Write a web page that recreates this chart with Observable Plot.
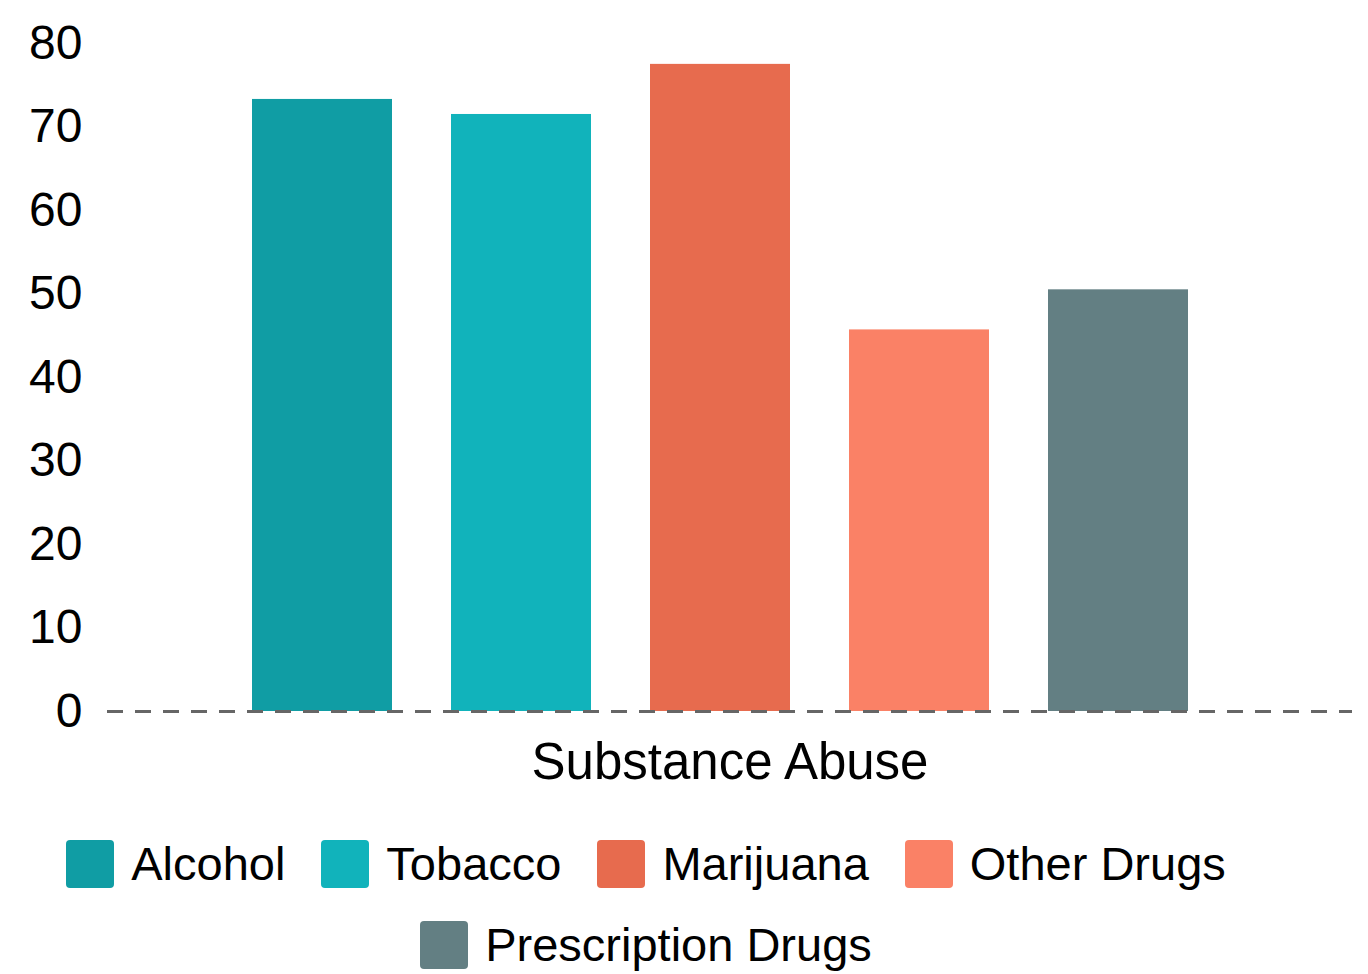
<!DOCTYPE html>
<html>
<head>
<meta charset="utf-8">
<script src="https://cdn.jsdelivr.net/npm/d3@7"></script>
<script src="https://cdn.jsdelivr.net/npm/@observablehq/plot@0.6"></script>
<style>
  html, body { margin: 0; padding: 0; background: #fff; }
  body { width: 1368px; height: 974px; overflow: hidden; font-family: "Liberation Sans", Arial, sans-serif; }
  #legend { width: 1292px; display: flex; flex-wrap: wrap; justify-content: center; margin-top: 40px; row-gap: 33px; }
  .item { display: flex; align-items: center; margin: 0 18px; font-size: 47px; line-height: 48px; color: #000; }
  .sw { width: 48px; height: 48px; border-radius: 4px; margin-right: 17px; }
</style>
</head>
<body>
<div id="chart"></div>
<div id="legend"></div>
<script>
const categories = ["Alcohol", "Tobacco", "Marijuana", "Other Drugs", "Prescription Drugs"];
const values = [73.3, 71.5, 77.5, 45.7, 50.5];
const colors = ["#109DA4", "#11B3BB", "#E76B4E", "#FA8166", "#637F83"];
const yTicks = [0, 10, 20, 30, 40, 50, 60, 70, 80];
const xLabel = "Substance Abuse";

const data = categories.map((c, i) => ({name: c, value: values[i]}));

const chart = Plot.plot({
  width: 1368,
  height: 800,
  marginTop: 43,
  marginBottom: 89,
  marginLeft: 107,
  marginRight: 16,
  style: {fontFamily: "Liberation Sans, Arial, sans-serif", fontSize: "48px", color: "#000", background: "#fff"},
  x: {type: "band", domain: categories, range: [193, 1247], padding: 0.296, axis: null},
  y: {domain: [0, 80]},
  color: {domain: categories, range: colors},
  marks: [
    Plot.axisY({ticks: yTicks, tickSize: 0, tickPadding: 25, fontSize: 48, label: null}),
    Plot.barY(data, {x: "name", y: "value", fill: "name"}),
    Plot.ruleY([0], {stroke: "#666", strokeWidth: 3, strokeDasharray: "16,12"}),
    Plot.text([xLabel], {text: d => d, frameAnchor: "bottom", lineAnchor: "middle", dy: 51, fontSize: 51, fill: "#000"})
  ]
});
document.getElementById("chart").appendChild(chart);

const legend = d3.select("#legend");
categories.forEach((c, i) => {
  const it = legend.append("div").attr("class", "item");
  it.append("div").attr("class", "sw").style("background", colors[i]);
  it.append("span").text(c);
});
</script>
</body>
</html>
